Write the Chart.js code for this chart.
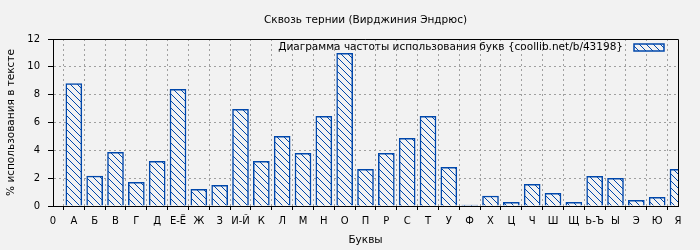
<!DOCTYPE html>
<html>
<head>
<meta charset="utf-8">
<script src="https://cdn.jsdelivr.net/npm/chart.js@4.4.0/dist/chart.umd.min.js"></script>
<style>
  html, body { margin: 0; padding: 0; background: #f2f2f2; }
  #wrap { width: 700px; height: 250px; }
</style>
</head>
<body>
<div id="wrap"><canvas id="freq"></canvas></div>
<script>
// буквы по оси X (позиция 0 пустая)
const letters = ['А','Б','В','Г','Д','Е-Ё','Ж','З','И-Й','К','Л','М','Н','О','П','Р','С','Т','У','Ф',
                 'Х','Ц','Ч','Ш','Щ','Ь-Ъ','Ы','Э','Ю','Я'];
// % использования в тексте
const percents = [8.8, 2.15, 3.86, 1.7, 3.21, 8.38, 1.2, 1.49, 6.94, 3.21,
                  5.0, 3.78, 6.44, 10.97, 2.63, 3.78, 4.86, 6.44, 2.78, 0.07,
                  0.72, 0.26, 1.56, 0.91, 0.26, 2.13, 1.99, 0.41, 0.62, 2.63];
const seriesLabel = 'Диаграмма частоты использования букв {coollib.net/b/43198}';
const chartTitle = 'Сквозь тернии (Вирджиния Эндрюс)';

const blue = '#0047ab';
const font = '"DejaVu Sans", sans-serif';
const canvas = document.getElementById('freq');

function hatch() {
  const c = document.createElement('canvas');
  c.width = 7; c.height = 7;
  const g = c.getContext('2d');
  g.fillStyle = '#f2f2f2';
  g.fillRect(0, 0, 7, 7);
  g.strokeStyle = blue;
  g.lineWidth = 1;
  g.beginPath();
  for (const o of [-7, 0, 7]) { g.moveTo(o, 0); g.lineTo(o + 7, 7); }
  g.stroke();
  return canvas.getContext('2d').createPattern(c, 'repeat');
}
const pattern = hatch();

// рамка сверху и справа
const frame = {
  id: 'frame',
  afterDatasetsDraw(chart) {
    const { ctx, chartArea: a } = chart;
    ctx.save();
    ctx.strokeStyle = '#000';
    ctx.lineWidth = 1;
    ctx.beginPath();
    ctx.moveTo(Math.round(a.left), Math.round(a.top) + 0.5);
    ctx.lineTo(Math.round(a.right) + 0.5, Math.round(a.top) + 0.5);
    ctx.lineTo(Math.round(a.right) + 0.5, Math.round(a.bottom));
    ctx.stroke();
    ctx.restore();
  }
};

// легенда внутри области графика
const innerLegend = {
  id: 'innerLegend',
  afterDraw(chart) {
    const { ctx, chartArea: a } = chart;
    ctx.save();
    ctx.font = '10.5px ' + font;
    ctx.fillStyle = '#000';
    ctx.textAlign = 'right';
    ctx.textBaseline = 'middle';
    ctx.fillText(chart.data.datasets[0].label, a.right - 55, a.top + 8.5);
    ctx.fillStyle = pattern;
    ctx.fillRect(a.right - 44, a.top + 5, 30, 7);
    ctx.strokeStyle = blue;
    ctx.lineWidth = 1.5;
    ctx.strokeRect(a.right - 44, a.top + 5, 30, 7);
    ctx.restore();
  }
};

new Chart(canvas, {
  type: 'bar',
  data: {
    datasets: [{
      label: seriesLabel,
      data: percents.map((v, i) => ({ x: i + 1, y: v })),
      backgroundColor: pattern,
      borderColor: blue,
      borderWidth: 1.5,
      barThickness: 16,
      clip: 0
    }]
  },
  options: {
    responsive: true,
    maintainAspectRatio: false,
    animation: false,
    layout: { padding: { left: 0, right: 22, top: 0, bottom: 0 } },
    plugins: {
      legend: { display: false },
      tooltip: { enabled: false },
      title: {
        display: true,
        text: chartTitle,
        fullSize: false,
        color: '#000',
        font: { family: font, size: 10.5, weight: 'normal' },
        padding: { top: 14, bottom: 12.4 }
      }
    },
    scales: {
      x: {
        type: 'linear',
        min: 0,
        max: 30,
        offset: false,
        afterFit: s => { s.height = 44; },
        ticks: {
          stepSize: 1,
          autoSkip: false,
          maxRotation: 0,
          padding: 5,
          color: '#000',
          font: { family: font, size: 10 },
          callback: v => (v === 0 ? '0' : letters[v - 1])
        },
        grid: { color: '#a0a0a0', tickColor: '#000', tickLength: 4 },
        border: { color: '#000', dash: [2, 3] },
        title: {
          display: true,
          text: 'Буквы',
          color: '#000',
          font: { family: font, size: 10.5 },
          padding: { top: 0, bottom: 3 }
        }
      },
      y: {
        min: 0,
        max: 12,
        afterFit: s => { s.width = 53; },
        ticks: {
          stepSize: 2,
          padding: 8,
          color: '#000',
          font: { family: font, size: 10 }
        },
        grid: { color: '#a0a0a0', tickColor: '#000', tickLength: 5 },
        border: { color: '#000', dash: [2, 3] },
        title: {
          display: true,
          text: '% использования в тексте',
          color: '#000',
          font: { family: font, size: 10.5 },
          padding: { top: 5, bottom: 0 }
        }
      }
    }
  },
  plugins: [frame, innerLegend]
});
</script>
</body>
</html>
